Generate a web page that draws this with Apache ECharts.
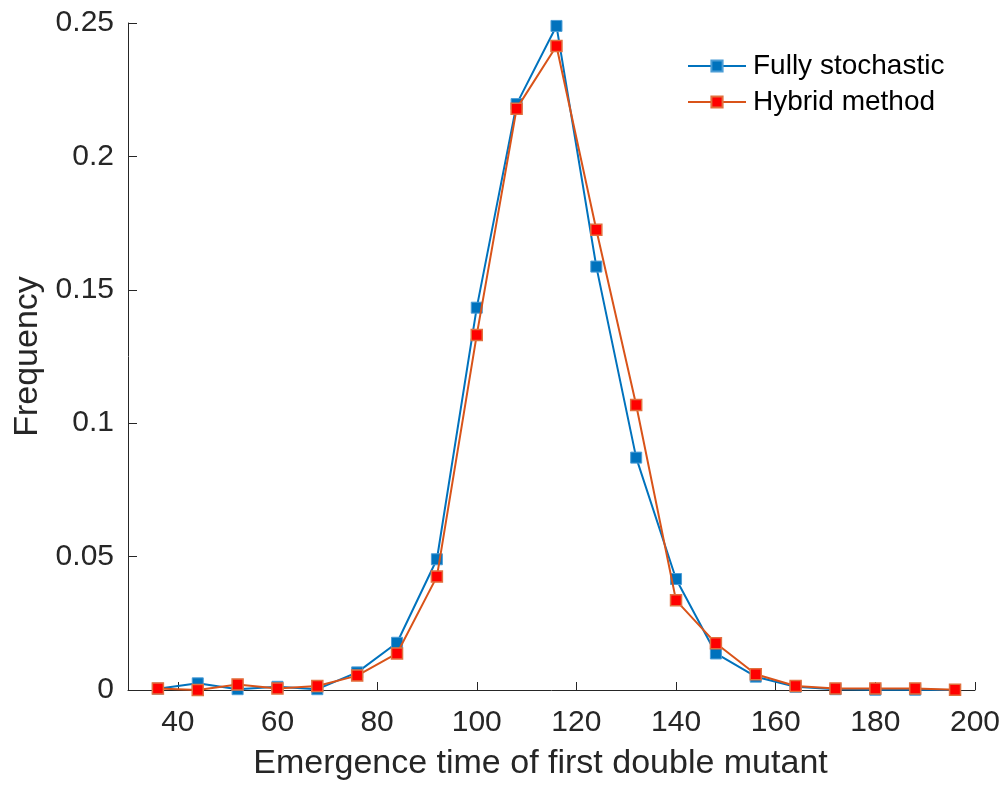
<!DOCTYPE html>
<html>
<head>
<meta charset="utf-8">
<title>Emergence time of first double mutant</title>
<script src="https://cdn.jsdelivr.net/npm/echarts@6/dist/echarts.min.js"></script>
<style>
  html, body { margin: 0; padding: 0; background: #ffffff; }
  #chart { width: 1003px; height: 790px; }
</style>
</head>
<body>
<div id="chart"></div>
<script>
// Emergence time bins (centres)
const times = [36, 44, 52, 60, 68, 76, 84, 92, 100, 108, 116, 124, 132, 140, 148, 156, 164, 172, 180, 188, 196];

// Frequency per bin, fully stochastic simulation
const fullyStochastic = [0.0005, 0.0025, 0.0003, 0.0012, 0.0003, 0.0066, 0.0177, 0.0490, 0.1433, 0.2196, 0.2489,
  0.1587, 0.0871, 0.0416, 0.0137, 0.0050, 0.0012, 0.0003, 0.0001, 0.0001, 0.0000];

// Frequency per bin, hybrid method
const hybridMethod = [0.0006, 0.0000, 0.0021, 0.0006, 0.0015, 0.0054, 0.0137, 0.0425, 0.1331, 0.2179, 0.2414,
  0.1725, 0.1068, 0.0336, 0.0175, 0.0059, 0.0015, 0.0006, 0.0006, 0.0006, 0.0001];

const seriesNames = ['Fully stochastic', 'Hybrid method'];
const xTicks = [40, 60, 80, 100, 120, 140, 160, 180, 200];

const FONT = "'Liberation Sans', Arial, Helvetica, sans-serif";
const INK = '#262626';

const pairs = (ys) => times.map((t, i) => [t, ys[i]]);

const chart = echarts.init(document.getElementById('chart'), null, { renderer: 'canvas' });

chart.setOption({
  backgroundColor: '#ffffff',
  animation: false,
  textStyle: { fontFamily: FONT, color: INK },
  grid: { left: 128, right: 25, top: 23, bottom: 100 },
  legend: {
    orient: 'vertical',
    left: 687,
    top: 52,
    padding: 0,
    itemGap: 8,
    itemWidth: 58,
    itemHeight: 14,
    textStyle: { fontFamily: FONT, fontSize: 28, color: '#000000', padding: [0, 0, 0, 2] },
    data: seriesNames
  },
  xAxis: {
    type: 'value',
    min: 30,
    max: 200,
    name: 'Emergence time of first double mutant',
    nameLocation: 'middle',
    nameGap: 57,
    nameTextStyle: { fontFamily: FONT, fontSize: 34, color: INK, padding: [0, 22, 0, 0] },
    axisLine: { show: true, onZero: false, lineStyle: { color: INK, width: 1 } },
    axisTick: { show: true, inside: true, length: 8, customValues: xTicks, lineStyle: { color: INK } },
    axisLabel: { customValues: xTicks, fontFamily: FONT, fontSize: 30, color: INK, margin: 18 },
    splitLine: { show: false }
  },
  yAxis: {
    type: 'value',
    min: 0,
    max: 0.25,
    interval: 0.05,
    name: 'Frequency',
    nameLocation: 'middle',
    nameGap: 82,
    nameTextStyle: { fontFamily: FONT, fontSize: 34, color: INK },
    axisLine: { show: true, lineStyle: { color: INK, width: 1 } },
    axisTick: { show: true, inside: true, length: 9, lineStyle: { color: INK } },
    axisLabel: { fontFamily: FONT, fontSize: 30, color: INK, margin: 14 },
    splitLine: { show: false }
  },
  series: [
    {
      name: seriesNames[0],
      type: 'line',
      data: pairs(fullyStochastic),
      clip: false,
      symbol: 'rect',
      symbolSize: 11,
      lineStyle: { color: '#0072BD', width: 2 },
      itemStyle: { color: '#0072BD', borderColor: '#4C9DD6', borderWidth: 1 },
      z: 2
    },
    {
      name: seriesNames[1],
      type: 'line',
      data: pairs(hybridMethod),
      clip: false,
      symbol: 'rect',
      symbolSize: 11,
      lineStyle: { color: '#D95319', width: 2 },
      itemStyle: { color: '#FF0000', borderColor: '#E2703E', borderWidth: 1.5 },
      z: 3
    }
  ]
});
</script>
</body>
</html>
